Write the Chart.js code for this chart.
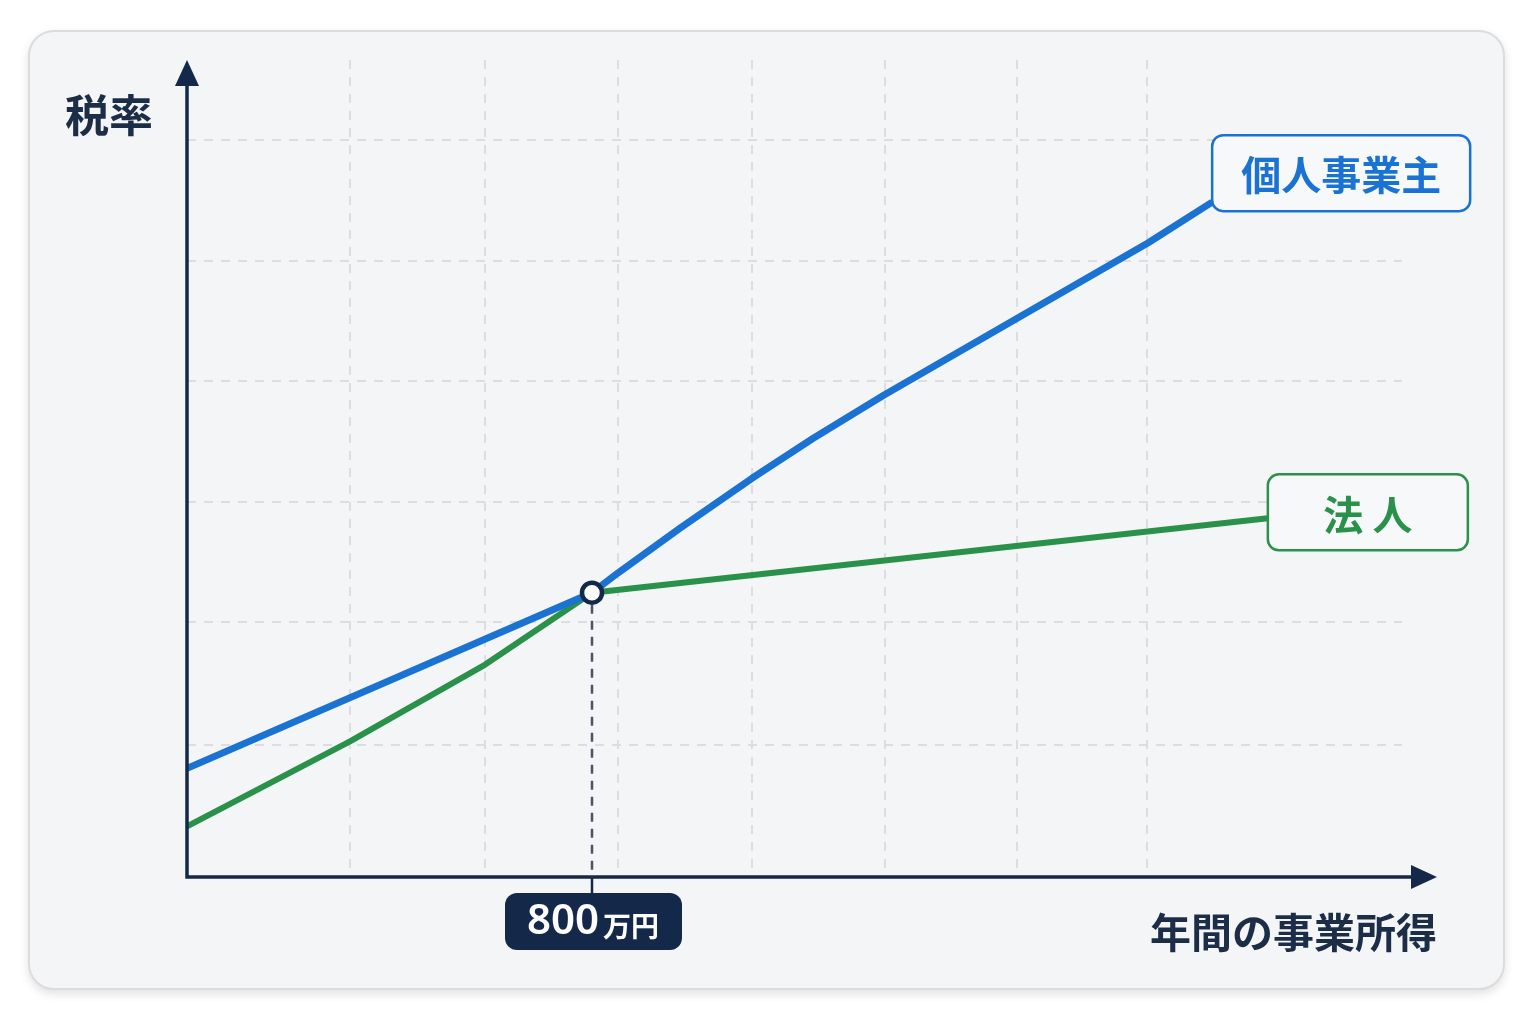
<!DOCTYPE html>
<html lang="ja">

<head>
    <meta charset="UTF-8">
    <title>個人事業主と法人の税率</title>
    <style>
        * {
            margin: 0;
            padding: 0;
            box-sizing: border-box;
        }

        body {
            width: 1536px;
            height: 1024px;
            background-color: #ffffff;
            font-family: "Noto Sans CJK JP", "Noto Sans", sans-serif;
            position: relative;
            overflow: hidden;
        }

        .card {
            position: absolute;
            left: 28px;
            top: 30px;
            width: 1477px;
            height: 960px;
            background-color: #f4f5f7;
            border: 2px solid #dcdcdd;
            border-radius: 26px;
            box-shadow: 0 4px 10px rgba(0, 0, 0, 0.12);
        }

        .chart-box {
            position: absolute;
            left: 0;
            top: 0;
            width: 1536px;
            height: 1024px;
        }
    </style>
</head>

<body>
    <div class="card"></div>
    <div class="chart-box">
        <canvas id="taxChart"></canvas>
    </div>

    <script src="https://cdn.jsdelivr.net/npm/chart.js"></script>
    <script>
        // 年間の事業所得(万円) と 税率(相対値)
        const incomeKojin = [0, 800, 851, 974, 1116, 1237, 1377, 1640, 1898, 2025];
        const rateKojin = [13.3, 34.8, 37.2, 42.7, 48.8, 53.7, 59.0, 68.4, 77.6, 82.6];
        const incomeHojin = [0, 322, 589, 800, 2135];
        const rateHojin = [6.2, 16.6, 26.0, 34.8, 43.9];

        // 補助線の位置
        const xGridTicks = [322, 589, 851, 1116, 1379, 1640, 1896];
        const yGridTicks = [16.2, 31.2, 45.9, 60.7, 75.4, 90.2];

        const breakEven = 800;
        const breakEvenRate = 34.8;
        const breakEvenLabel = ['800', '万円'];

        const seriesLabels = ['個人事業主', '法 人'];
        const yTitle = '税率';
        const xTitle = '年間の事業所得';

        const NAVY = '#14294a';
        const BLUE = '#1a73d3';
        const GREEN = '#2a914a';
        const JP = '"Noto Sans CJK JP", sans-serif';

        function toPoints(xs, ys) {
            return xs.map((x, i) => ({ x: x, y: ys[i] }));
        }

        function roundRect(ctx, x, y, w, h, r) {
            ctx.beginPath();
            ctx.moveTo(x + r, y);
            ctx.arcTo(x + w, y, x + w, y + h, r);
            ctx.arcTo(x + w, y + h, x, y + h, r);
            ctx.arcTo(x, y + h, x, y, r);
            ctx.arcTo(x, y, x + w, y, r);
            ctx.closePath();
        }

        // 軸の矢印・ラベル・交点マーカー
        const decorPlugin = {
            id: 'decor',
            afterDatasetsDraw(chart) {
                const ctx = chart.ctx;
                const xs = chart.scales.x;
                const ys = chart.scales.y;
                const x0 = xs.getPixelForValue(0);
                const y0 = ys.getPixelForValue(0);
                const top = chart.chartArea.top;
                const right = x0 + 1250;

                ctx.save();
                // 軸
                ctx.strokeStyle = NAVY;
                ctx.fillStyle = NAVY;
                ctx.lineWidth = 3.5;
                ctx.beginPath();
                ctx.moveTo(x0, y0 + 1.5);
                ctx.lineTo(x0, top + 24);
                ctx.moveTo(x0 - 1.5, y0);
                ctx.lineTo(right - 24, y0);
                ctx.stroke();
                ctx.beginPath();
                ctx.moveTo(x0, top);
                ctx.lineTo(x0 - 12, top + 26);
                ctx.lineTo(x0 + 12, top + 26);
                ctx.closePath();
                ctx.fill();
                ctx.beginPath();
                ctx.moveTo(right, y0);
                ctx.lineTo(right - 26, y0 - 12);
                ctx.lineTo(right - 26, y0 + 12);
                ctx.closePath();
                ctx.fill();

                // 軸タイトル
                ctx.font = 'bold 44px ' + JP;
                ctx.textBaseline = 'middle';
                ctx.textAlign = 'left';
                ctx.fillStyle = '#1b2d47';
                ctx.fillText(yTitle, 65, 115);
                ctx.font = 'bold 41px ' + JP;
                ctx.textAlign = 'right';
                ctx.fillText(xTitle, 1437, 932);

                // 損益分岐点
                const mx = xs.getPixelForValue(breakEven);
                const my = ys.getPixelForValue(breakEvenRate);
                ctx.strokeStyle = '#4b5567';
                ctx.lineWidth = 2.5;
                ctx.setLineDash([9, 7]);
                ctx.beginPath();
                ctx.moveTo(mx, my + 12);
                ctx.lineTo(mx, y0);
                ctx.stroke();
                ctx.setLineDash([]);
                ctx.strokeStyle = NAVY;
                ctx.beginPath();
                ctx.moveTo(mx, y0);
                ctx.lineTo(mx, y0 + 18);
                ctx.stroke();

                ctx.fillStyle = NAVY;
                roundRect(ctx, mx - 87, y0 + 16, 177, 57, 12);
                ctx.fill();
                ctx.fillStyle = '#ffffff';
                ctx.textAlign = 'left';
                ctx.font = '600 42px "Noto Sans", sans-serif';
                const w1 = ctx.measureText(breakEvenLabel[0]).width;
                ctx.font = 'bold 28px ' + JP;
                const w2 = ctx.measureText(breakEvenLabel[1]).width;
                const sx = mx + 1 - (w1 + 4 + w2) / 2;
                ctx.font = '600 42px "Noto Sans", sans-serif';
                ctx.fillText(breakEvenLabel[0], sx, y0 + 45);
                ctx.font = 'bold 28px ' + JP;
                ctx.fillText(breakEvenLabel[1], sx + w1 + 4, y0 + 49);

                ctx.beginPath();
                ctx.arc(mx, my, 10, 0, Math.PI * 2);
                ctx.fillStyle = '#ffffff';
                ctx.fill();
                ctx.lineWidth = 4.5;
                ctx.strokeStyle = NAVY;
                ctx.stroke();

                // 系列ラベル
                const boxes = [
                    { ds: 0, dy: -67, w: 258, color: BLUE },
                    { ds: 1, dy: -44, w: 200, color: GREEN }
                ];
                boxes.forEach(b => {
                    const pts = chart.getDatasetMeta(b.ds).data;
                    const p = pts[pts.length - 1];
                    const bx = p.x;
                    const by = p.y + b.dy;
                    roundRect(ctx, bx, by, b.w, 76, 11);
                    ctx.fillStyle = '#f7f8fa';
                    ctx.fill();
                    ctx.lineWidth = 2.5;
                    ctx.strokeStyle = b.color;
                    ctx.stroke();
                    ctx.fillStyle = b.color;
                    ctx.font = 'bold 40px ' + JP;
                    ctx.textAlign = 'center';
                    ctx.textBaseline = 'middle';
                    ctx.fillText(seriesLabels[b.ds], bx + b.w / 2, by + 40);
                });
                ctx.restore();
            }
        };

        const ctx = document.getElementById('taxChart').getContext('2d');

        const gridStyle = {
            color: '#dcdde0',
            lineWidth: 2,
            drawTicks: false
        };

        const taxChart = new Chart(ctx, {
            type: 'line',
            data: {
                datasets: [{
                    label: seriesLabels[0],
                    data: toPoints(incomeKojin, rateKojin),
                    borderColor: BLUE,
                    borderWidth: 7,
                    pointRadius: 0,
                    tension: 0,
                    borderJoinStyle: 'round',
                    clip: false
                }, {
                    label: seriesLabels[1],
                    data: toPoints(incomeHojin, rateHojin),
                    borderColor: GREEN,
                    borderWidth: 6,
                    pointRadius: 0,
                    tension: 0,
                    borderJoinStyle: 'round',
                    clip: false
                }]
            },
            options: {
                responsive: true,
                maintainAspectRatio: false,
                animation: false,
                devicePixelRatio: 1,
                layout: {
                    padding: { left: 187, top: 60, right: 134, bottom: 147 }
                },
                plugins: {
                    legend: { display: false },
                    tooltip: { enabled: false }
                },
                scales: {
                    x: {
                        type: 'linear',
                        min: 0,
                        max: 2400,
                        afterBuildTicks: scale => {
                            scale.ticks = xGridTicks.map(v => ({ value: v }));
                        },
                        ticks: { display: false },
                        border: { display: false, dash: [9, 8] },
                        grid: gridStyle
                    },
                    y: {
                        min: 0,
                        max: 100,
                        afterBuildTicks: scale => {
                            scale.ticks = yGridTicks.map(v => ({ value: v }));
                        },
                        ticks: { display: false },
                        border: { display: false, dash: [9, 8] },
                        grid: gridStyle
                    }
                }
            },
            plugins: [decorPlugin]
        });
    </script>
</body>

</html>
